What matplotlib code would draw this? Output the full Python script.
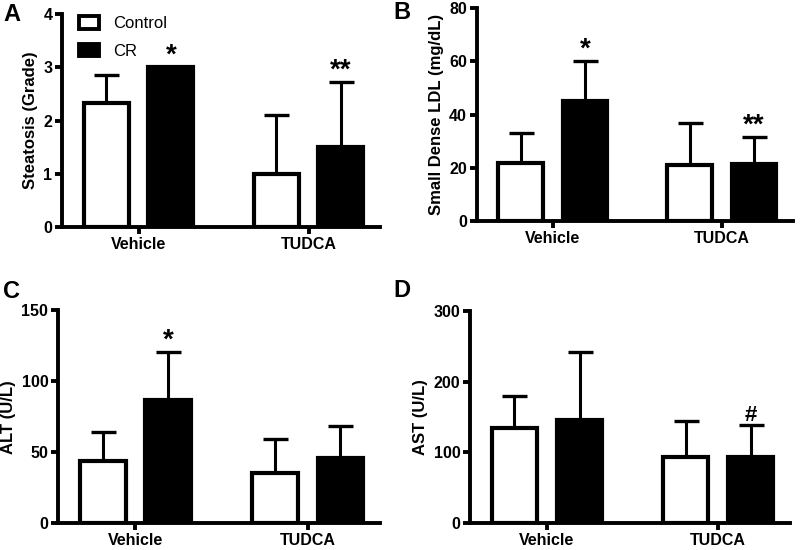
import matplotlib
matplotlib.use("Agg")
import matplotlib.pyplot as plt
from matplotlib.patches import Patch
import numpy as np

plt.rcParams['font.family'] = ['Liberation Sans', 'DejaVu Sans']

groups = ["Vehicle", "TUDCA"]
series = ["Control", "CR"]

steatosis_ctrl = [2.33, 1.0]
steatosis_ctrl_err = [0.52, 1.1]
steatosis_cr = [3.0, 1.5]
steatosis_cr_err = [0.0, 1.22]

ldl_ctrl = [22, 21]
ldl_ctrl_err = [11, 15.7]
ldl_cr = [45, 21.5]
ldl_cr_err = [15, 10]

alt_ctrl = [44, 35.5]
alt_ctrl_err = [20, 24]
alt_cr = [87, 46]
alt_cr_err = [33.5, 22.5]

ast_ctrl = [135, 94]
ast_ctrl_err = [45, 50]
ast_cr = [146.5, 94]
ast_cr_err = [96, 45]

panels = [
    dict(letter="A", ylabel="Steatosis (Grade)", ctrl=steatosis_ctrl, ctrl_err=steatosis_ctrl_err,
         cr=steatosis_cr, cr_err=steatosis_cr_err, ylim=4, yticks=[0, 1, 2, 3, 4],
         marks=["*", "**"], rect=[0.0775, 0.587, 0.3975, 0.3875], lpos=(3, 21)),
    dict(letter="B", ylabel="Small Dense LDL (mg/dL)", ctrl=ldl_ctrl, ctrl_err=ldl_ctrl_err,
         cr=ldl_cr, cr_err=ldl_cr_err, ylim=80, yticks=[0, 20, 40, 60, 80],
         marks=["*", "**"], rect=[0.596, 0.598, 0.395, 0.387], lpos=(393, 19)),
    dict(letter="C", ylabel="ALT (U/L)", ctrl=alt_ctrl, ctrl_err=alt_ctrl_err,
         cr=alt_cr, cr_err=alt_cr_err, ylim=150, yticks=[0, 50, 100, 150],
         marks=["*", ""], rect=[0.0725, 0.049, 0.4025, 0.387], lpos=(3, 298)),
    dict(letter="D", ylabel="AST (U/L)", ctrl=ast_ctrl, ctrl_err=ast_ctrl_err,
         cr=ast_cr, cr_err=ast_cr_err, ylim=300, yticks=[0, 100, 200, 300],
         marks=["", "#"], rect=[0.5875, 0.049, 0.4, 0.3855], lpos=(393, 297)),
]

fig = plt.figure(figsize=(8, 5.5), dpi=100)

x = np.arange(len(groups))
off = 0.19
w = 0.265
lw = 3.0

for p in panels:
    ax = fig.add_axes(p["rect"])
    ctrl = np.array(p["ctrl"], float)
    cr = np.array(p["cr"], float)
    ce = np.array(p["ctrl_err"], float)
    re = np.array(p["cr_err"], float)
    ax.errorbar(x - off, ctrl, yerr=[np.zeros_like(ce), ce], fmt='none', ecolor='black',
                elinewidth=2.2, capsize=9, capthick=2.4, zorder=1)
    ax.errorbar(x + off, cr, yerr=[np.zeros_like(re), re], fmt='none', ecolor='black',
                elinewidth=2.2, capsize=9, capthick=2.4, zorder=1)
    ax.bar(x - off, ctrl, width=w, color='white', edgecolor='black', linewidth=lw, zorder=2)
    ax.bar(x + off, cr, width=w, color='black', edgecolor='black', linewidth=lw, zorder=2)
    for i, m in enumerate(p["marks"]):
        if m:
            ax.annotate(m, xy=(x[i] + off, cr[i] + re[i]), xytext=(0, -1),
                        textcoords='offset points', ha='center', va='bottom',
                        fontsize=20 if m != "#" else 16, fontweight='bold')
    ax.set_xlim(-0.45, 1.42)
    ax.set_ylim(0, p["ylim"])
    ax.set_yticks(p["yticks"])
    ax.set_xticks(x)
    ax.set_xticklabels(groups, fontsize=11.5, fontweight='bold')
    for t in ax.get_yticklabels():
        t.set_fontsize(11.5)
        t.set_fontweight('bold')
    ax.set_ylabel(p["ylabel"], fontsize=12, fontweight='bold', labelpad=4)
    for s in ["top", "right"]:
        ax.spines[s].set_visible(False)
    for s in ["left", "bottom"]:
        ax.spines[s].set_linewidth(2.8)
    ax.tick_params(axis='both', width=2.8, length=5, pad=2)
    lx, ly = p["lpos"]
    fig.text(lx / 800, 1 - ly / 550, p["letter"], fontsize=17, fontweight='bold',
             ha='left', va='baseline')
    if p["letter"] == "A":
        handles = [Patch(facecolor='white', edgecolor='black', linewidth=2.8),
                   Patch(facecolor='black', edgecolor='black', linewidth=2.8)]
        ax.legend(handles, series, loc='upper left', bbox_to_anchor=(0.005, 1.06),
                  frameon=False, fontsize=12, handlelength=1.25, handleheight=0.75,
                  handletextpad=0.8, labelspacing=0.75)

fig.savefig("out.png", dpi=100)
